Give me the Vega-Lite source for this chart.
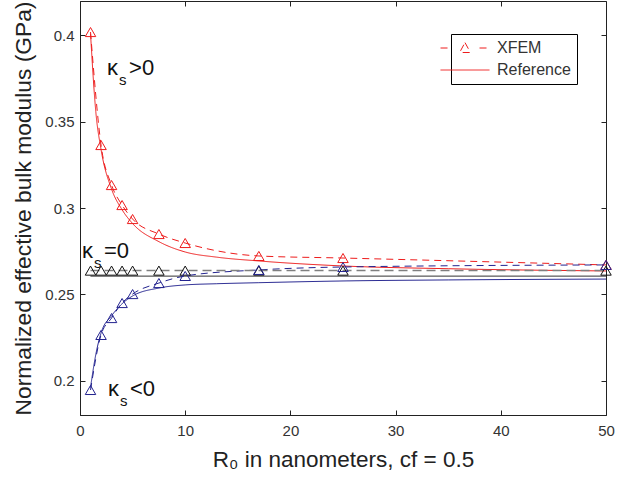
{
  "$schema": "https://vega.github.io/schema/vega-lite/v6.json",
  "width": 526,
  "height": 414,
  "autosize": {"type": "none"},
  "padding": {"left": 80, "top": 1, "right": 26, "bottom": 63},
  "background": "white",
  "config": {
    "font": "Liberation Sans",
    "view": {"stroke": "#222", "strokeWidth": 1},
    "axis": {
      "grid": false,
      "domainColor": "#222",
      "tickColor": "#222",
      "tickSize": -5,
      "labelColor": "#333",
      "labelFontSize": 15,
      "labelFlush": false,
      "titleColor": "#222",
      "titleFontWeight": "normal",
      "titleFontSize": 22.8
    }
  },
  "datasets": {
    "curves": [
      {"R": 1, "K": 0.402, "case": "pos", "method": "XFEM"},
      {"R": 2, "K": 0.3365, "case": "pos", "method": "XFEM"},
      {"R": 3, "K": 0.3133, "case": "pos", "method": "XFEM"},
      {"R": 4, "K": 0.3017, "case": "pos", "method": "XFEM"},
      {"R": 5, "K": 0.2936, "case": "pos", "method": "XFEM"},
      {"R": 7.5, "K": 0.2849, "case": "pos", "method": "XFEM"},
      {"R": 10, "K": 0.2797, "case": "pos", "method": "XFEM"},
      {"R": 17, "K": 0.2722, "case": "pos", "method": "XFEM"},
      {"R": 25, "K": 0.271, "case": "pos", "method": "XFEM"},
      {"R": 50, "K": 0.267, "case": "pos", "method": "XFEM"},
      {"R": 1, "K": 0.401, "case": "pos", "method": "Reference"},
      {"R": 1.5, "K": 0.356, "case": "pos", "method": "Reference"},
      {"R": 2, "K": 0.334, "case": "pos", "method": "Reference"},
      {"R": 3, "K": 0.311, "case": "pos", "method": "Reference"},
      {"R": 4, "K": 0.299, "case": "pos", "method": "Reference"},
      {"R": 5, "K": 0.291, "case": "pos", "method": "Reference"},
      {"R": 7.5, "K": 0.2805, "case": "pos", "method": "Reference"},
      {"R": 10, "K": 0.2745, "case": "pos", "method": "Reference"},
      {"R": 13, "K": 0.2715, "case": "pos", "method": "Reference"},
      {"R": 17, "K": 0.2693, "case": "pos", "method": "Reference"},
      {"R": 25, "K": 0.2664, "case": "pos", "method": "Reference"},
      {"R": 35, "K": 0.2648, "case": "pos", "method": "Reference"},
      {"R": 50, "K": 0.2635, "case": "pos", "method": "Reference"},
      {"R": 1, "K": 0.2637, "case": "zero", "method": "XFEM"},
      {"R": 2, "K": 0.2637, "case": "zero", "method": "XFEM"},
      {"R": 3, "K": 0.2637, "case": "zero", "method": "XFEM"},
      {"R": 4, "K": 0.2637, "case": "zero", "method": "XFEM"},
      {"R": 5, "K": 0.2637, "case": "zero", "method": "XFEM"},
      {"R": 7.5, "K": 0.2637, "case": "zero", "method": "XFEM"},
      {"R": 10, "K": 0.2637, "case": "zero", "method": "XFEM"},
      {"R": 17, "K": 0.2637, "case": "zero", "method": "XFEM"},
      {"R": 25, "K": 0.2637, "case": "zero", "method": "XFEM"},
      {"R": 50, "K": 0.2637, "case": "zero", "method": "XFEM"},
      {"R": 1, "K": 0.2605, "case": "zero", "method": "Reference"},
      {"R": 50, "K": 0.2605, "case": "zero", "method": "Reference"},
      {"R": 1, "K": 0.1945, "case": "neg", "method": "XFEM"},
      {"R": 2, "K": 0.2264, "case": "neg", "method": "XFEM"},
      {"R": 3, "K": 0.2362, "case": "neg", "method": "XFEM"},
      {"R": 4, "K": 0.2449, "case": "neg", "method": "XFEM"},
      {"R": 5, "K": 0.2501, "case": "neg", "method": "XFEM"},
      {"R": 7.5, "K": 0.2565, "case": "neg", "method": "XFEM"},
      {"R": 10, "K": 0.2606, "case": "neg", "method": "XFEM"},
      {"R": 17, "K": 0.2641, "case": "neg", "method": "XFEM"},
      {"R": 25, "K": 0.2658, "case": "neg", "method": "XFEM"},
      {"R": 50, "K": 0.267, "case": "neg", "method": "XFEM"},
      {"R": 1, "K": 0.196, "case": "neg", "method": "Reference"},
      {"R": 1.5, "K": 0.215, "case": "neg", "method": "Reference"},
      {"R": 2, "K": 0.2275, "case": "neg", "method": "Reference"},
      {"R": 3, "K": 0.2375, "case": "neg", "method": "Reference"},
      {"R": 4, "K": 0.2445, "case": "neg", "method": "Reference"},
      {"R": 5, "K": 0.249, "case": "neg", "method": "Reference"},
      {"R": 7.5, "K": 0.2536, "case": "neg", "method": "Reference"},
      {"R": 10, "K": 0.2554, "case": "neg", "method": "Reference"},
      {"R": 13, "K": 0.2561, "case": "neg", "method": "Reference"},
      {"R": 17, "K": 0.2567, "case": "neg", "method": "Reference"},
      {"R": 25, "K": 0.2577, "case": "neg", "method": "Reference"},
      {"R": 35, "K": 0.2583, "case": "neg", "method": "Reference"},
      {"R": 50, "K": 0.2588, "case": "neg", "method": "Reference"}
    ],
    "notes": [
      {"R": 2.57, "K": 0.3771, "rel": ">0"},
      {"R": 0.19, "K": 0.271, "rel": "=0"},
      {"R": 2.66, "K": 0.191, "rel": "<0"}
    ]
  },
  "resolve": {"axis": {"x": "independent", "y": "independent"}},
  "layer": [
    {
      "data": {"name": "curves"},
      "transform": [{"filter": "!(datum.case === 'zero' && datum.method === 'XFEM')"}],
      "mark": {"type": "line", "strokeWidth": 1, "interpolate": "monotone"},
      "encoding": {
        "x": {
          "field": "R", "type": "quantitative",
          "scale": {"domain": [0, 50], "nice": false},
          "axis": {"orient": "bottom", "values": [0, 10, 20, 30, 40, 50], "labelPadding": 13, "title": "R₀ in nanometers, cf = 0.5", "titleFontSize": 22.5, "titlePadding": 10}
        },
        "y": {
          "field": "K", "type": "quantitative",
          "scale": {"domain": [0.18, 0.42], "nice": false, "zero": false},
          "axis": {"orient": "left", "values": [0.2, 0.25, 0.3, 0.35, 0.4], "format": "~g", "labelPadding": 11, "title": "Normalized effective bulk modulus (GPa)", "titlePadding": 9}
        },
        "color": {
          "field": "case", "type": "nominal",
          "scale": {"domain": ["pos", "zero", "neg"], "range": ["#ee1c1c", "#111111", "#23238f"]},
          "legend": null
        },
        "strokeDash": {
          "field": "method", "type": "nominal",
          "scale": {"domain": ["XFEM", "Reference"], "range": [[7, 5], [1, 0]]},
          "legend": {
            "title": null,
            "orient": "none",
            "legendX": 371,
            "legendY": 33,
            "strokeColor": "#000",
            "fillColor": "white",
            "padding": 6,
            "symbolSize": 144,
            "labelFontSize": 16,
            "labelColor": "#333",
            "labelOffset": 24,
            "rowPadding": 6,
            "encode": {
              "symbols": {
                "update": {
                  "shape": {"signal": "datum.value === 'XFEM' ? 'M-4.08,0H-2.42M2.42,0H4.08M0,-0.9L0.9,0.75L-0.9,0.75Z' : 'M-4.08,0H4.08'"},
                  "strokeDash": {"value": []},
                  "stroke": {"value": "#ee1c1c"},
                  "fill": {"value": "transparent"},
                  "strokeWidth": {"value": 1}
                }
              }
            }
          }
        },
        "detail": {"field": "case"}
      }
    },
    {
      "data": {"name": "curves"},
      "transform": [{"filter": "datum.case === 'zero' && datum.method === 'XFEM'"}],
      "mark": {"type": "line", "strokeWidth": 1.5, "color": "#7f7f7f", "strokeDash": [9, 5]},
      "encoding": {
        "x": {"field": "R", "type": "quantitative", "axis": null},
        "y": {"field": "K", "type": "quantitative", "axis": null}
      }
    },
    {
      "data": {"name": "curves"},
      "transform": [{"filter": "datum.method === 'XFEM'"}],
      "mark": {"type": "point", "shape": "triangle-up", "filled": false, "size": 110, "strokeWidth": 1, "opacity": 1},
      "encoding": {
        "x": {"field": "R", "type": "quantitative", "axis": {"orient": "top", "values": [0, 10, 20, 30, 40, 50], "labels": false, "title": null, "domain": false}},
        "y": {"field": "K", "type": "quantitative", "axis": {"orient": "right", "values": [0.2, 0.25, 0.3, 0.35, 0.4], "labels": false, "title": null, "domain": false}},
        "color": {"field": "case", "type": "nominal", "legend": null}
      }
    },
    {
      "data": {"name": "notes"},
      "mark": {"type": "text", "text": "κ", "fontSize": 22, "align": "left", "baseline": "alphabetic", "color": "#111"},
      "encoding": {
        "x": {"field": "R", "type": "quantitative", "axis": null},
        "y": {"field": "K", "type": "quantitative", "axis": null}
      }
    },
    {
      "data": {"name": "notes"},
      "mark": {"type": "text", "text": "s", "fontSize": 15, "align": "left", "baseline": "alphabetic", "dx": 12, "dy": 10, "color": "#111"},
      "encoding": {
        "x": {"field": "R", "type": "quantitative", "axis": null},
        "y": {"field": "K", "type": "quantitative", "axis": null}
      }
    },
    {
      "data": {"name": "notes"},
      "mark": {"type": "text", "fontSize": 22, "align": "left", "baseline": "alphabetic", "dx": 22, "color": "#111"},
      "encoding": {
        "x": {"field": "R", "type": "quantitative", "axis": null},
        "y": {"field": "K", "type": "quantitative", "axis": null},
        "text": {"field": "rel"}
      }
    }
  ]
}
